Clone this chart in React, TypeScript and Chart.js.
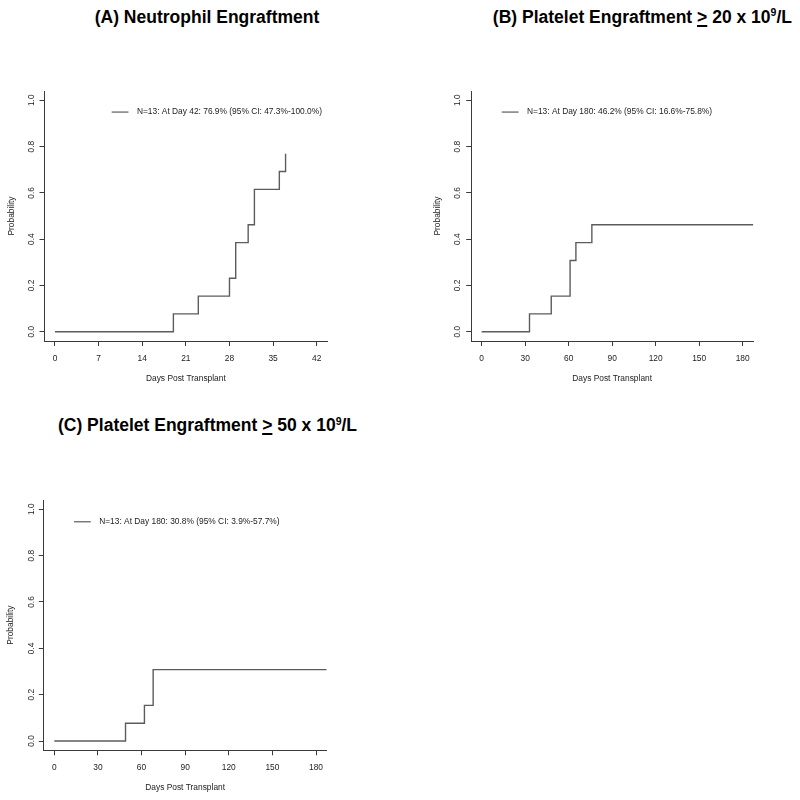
import React, { useEffect, useRef } from "react";
import { Chart, registerables } from "chart.js";

Chart.register(...registerables);

// ---------- data ----------
const neutrophilDays = [0, 19, 23, 28, 29, 31, 32, 36, 37];
const neutrophilProb = [0, 0.077, 0.154, 0.231, 0.385, 0.462, 0.615, 0.692, 0.769];

const platelet20Days = [0, 33, 48, 61, 65, 76, 190];
const platelet20Prob = [0, 0.077, 0.154, 0.308, 0.385, 0.462, 0.462];

const platelet50Days = [0, 49, 62, 68, 190];
const platelet50Prob = [0, 0.077, 0.154, 0.308, 0.308];

const dayTicksA = [0, 7, 14, 21, 28, 35, 42];
const dayTicksBC = [0, 30, 60, 90, 120, 150, 180];
const probTicks = [0, 0.2, 0.4, 0.6, 0.8, 1.0];

const legendTextA = "N=13: At Day 42: 76.9% (95% CI: 47.3%-100.0%)";
const legendTextB = "N=13: At Day 180: 46.2% (95% CI: 16.6%-75.8%)";
const legendTextC = "N=13: At Day 180: 30.8% (95% CI: 3.9%-57.7%)";

const xAxisTitle = "Days Post Transplant";
const yAxisTitle = "Probability";

// ---------- styling ----------
const FONT = '"Liberation Sans", Arial, Helvetica, sans-serif';
const SMALL = 8.4;
const LH = SMALL * 1.2;
const INK = "#1c1c1c";
const AXIS = "#3a3a3a";
const CURVE = "#5c5c5c";
const ZERO_LABEL_W = 11.7; // width of "0.0" at SMALL size

type Rect = { left: number; top: number; width: number; height: number };
type PlotRect = { l: number; r: number; t: number; b: number };

type PanelSpec = {
  canvas: Rect;
  plot: PlotRect;
  days: number[];
  probs: number[];
  xTicks: number[];
  xLim: [number, number];
  legendText: string;
  legendAt: [number, number];
  yTickGap: number;
  yTitleGap: number;
  xTickGap: number;
  xTitleGap: number;
};

const panelA: PanelSpec = {
  canvas: { left: 0, top: 40, width: 400, height: 360 },
  plot: { l: 44.5, r: 327.2, t: 91, b: 341 },
  days: neutrophilDays,
  probs: neutrophilProb,
  xTicks: dayTicksA,
  xLim: [0, 42],
  legendText: legendTextA,
  legendAt: [9.1, 0.949],
  yTickGap: 12.4,
  yTitleGap: 33.3,
  xTickGap: 17.7,
  xTitleGap: 38,
};

const panelB: PanelSpec = {
  canvas: { left: 400, top: 40, width: 400, height: 360 },
  plot: { l: 471.2, r: 753.1, t: 91, b: 341 },
  days: platelet20Days,
  probs: platelet20Prob,
  xTicks: dayTicksBC,
  xLim: [0, 180],
  legendText: legendTextB,
  legendAt: [13.9, 0.949],
  yTickGap: 13.3,
  yTitleGap: 33.4,
  xTickGap: 17.7,
  xTitleGap: 38,
};

const panelC: PanelSpec = {
  canvas: { left: 0, top: 450, width: 400, height: 350 },
  plot: { l: 43.8, r: 326.5, t: 500, b: 750.3 },
  days: platelet50Days,
  probs: platelet50Prob,
  xTicks: dayTicksBC,
  xLim: [0, 180],
  legendText: legendTextC,
  legendAt: [13.55, 0.946],
  yTickGap: 12.6,
  yTitleGap: 33,
  xTickGap: 17.7,
  xTitleGap: 37.6,
};

function Panel({ spec }: { spec: PanelSpec }) {
  const ref = useRef<HTMLCanvasElement>(null);

  useEffect(() => {
    if (!ref.current) return;
    const c = spec.canvas;
    const p = spec.plot;
    const yW = p.l - c.left;
    const xH = spec.xTitleGap + LH / 2;
    const ext = (spec.xLim[1] - spec.xLim[0]) * 0.04;

    const legendPlugin = {
      id: "rLegend",
      afterDraw(chart: any) {
        const ctx = chart.ctx as CanvasRenderingContext2D;
        const px = chart.scales.x.getPixelForValue(spec.legendAt[0]);
        const py = chart.scales.y.getPixelForValue(spec.legendAt[1]);
        ctx.save();
        ctx.strokeStyle = CURVE;
        ctx.lineWidth = 1.2;
        ctx.beginPath();
        ctx.moveTo(px, py);
        ctx.lineTo(px + 2 * SMALL, py);
        ctx.stroke();
        ctx.fillStyle = INK;
        ctx.font = `${SMALL}px ${FONT}`;
        ctx.textAlign = "left";
        ctx.textBaseline = "middle";
        ctx.fillText(spec.legendText, px + 3 * SMALL, py);
        ctx.restore();
      },
    };

    const smallFont = { family: FONT, size: SMALL, lineHeight: 1.2 };

    const chart = new Chart(ref.current, {
      type: "line",
      data: {
        datasets: [
          {
            data: spec.days.map((d, i) => ({ x: d, y: spec.probs[i] })),
            borderColor: CURVE,
            borderWidth: 1.4,
            pointRadius: 0,
            stepped: "before",
            fill: false,
          },
        ],
      },
      options: {
        animation: false,
        responsive: false,
        events: [],
        layout: {
          padding: {
            left: 0,
            top: p.t - c.top,
            right: c.left + c.width - p.r,
            bottom: c.top + c.height - p.b - xH,
          },
        },
        plugins: {
          legend: { display: false },
          tooltip: { enabled: false },
          title: { display: false },
        },
        scales: {
          x: {
            type: "linear",
            min: spec.xLim[0] - ext,
            max: spec.xLim[1] + ext,
            afterBuildTicks: (s: any) => {
              s.ticks = spec.xTicks.map((v) => ({ value: v }));
            },
            afterFit: (s: any) => {
              s.height = xH;
            },
            grid: {
              drawOnChartArea: false,
              drawTicks: true,
              tickLength: 5,
              color: AXIS,
              lineWidth: 1,
            },
            border: { display: true, color: AXIS, width: 1 },
            ticks: {
              font: smallFont,
              color: INK,
              padding: spec.xTickGap - 5 - LH / 2,
              maxRotation: 0,
              minRotation: 0,
              autoSkip: false,
              callback: (v: any) => String(v),
            },
            title: {
              display: true,
              text: xAxisTitle,
              font: smallFont,
              color: INK,
              padding: { top: 0, bottom: 0 },
            },
          },
          y: {
            type: "linear",
            min: -0.04,
            max: 1.04,
            afterBuildTicks: (s: any) => {
              s.ticks = probTicks.map((v) => ({ value: v }));
            },
            afterFit: (s: any) => {
              s.width = yW;
            },
            grid: {
              drawOnChartArea: false,
              drawTicks: true,
              tickLength: 5,
              color: AXIS,
              lineWidth: 1,
            },
            border: { display: true, color: AXIS, width: 1 },
            ticks: {
              font: smallFont,
              color: INK,
              minRotation: 90,
              maxRotation: 90,
              crossAlign: "center",
              padding: spec.yTickGap - 5 - ZERO_LABEL_W / 2,
              autoSkip: false,
              callback: (v: any) => Number(v).toFixed(1),
            },
            title: {
              display: true,
              text: yAxisTitle,
              font: smallFont,
              color: INK,
              padding: { top: yW - spec.yTitleGap - LH / 2, bottom: 0 },
            },
          },
        },
      },
      plugins: [legendPlugin],
    } as any);

    return () => chart.destroy();
  }, [spec]);

  const c = spec.canvas;
  return (
    <canvas
      ref={ref}
      width={c.width}
      height={c.height}
      style={{ position: "absolute", left: c.left, top: c.top, width: c.width, height: c.height }}
    />
  );
}

const TITLE_SIZE = 17.5;
const TITLE_LH = 20;

function PanelTitle({ cx, baseline, children }: { cx: number; baseline: number; children: React.ReactNode }) {
  const top = baseline - ((TITLE_LH - TITLE_SIZE * 1.117) / 2 + TITLE_SIZE * 0.905);
  return (
    <div
      style={{
        position: "absolute",
        left: cx,
        top,
        transform: "translateX(-50%)",
        fontFamily: FONT,
        fontWeight: "bold",
        fontSize: TITLE_SIZE,
        lineHeight: `${TITLE_LH}px`,
        whiteSpace: "nowrap",
        color: "#000",
      }}
    >
      {children}
    </div>
  );
}

const Ge = () => (
  <span style={{ textDecoration: "underline", textUnderlineOffset: "2px", textDecorationThickness: "1.5px" }}>&gt;</span>
);
const Sup9 = () => (
  <span style={{ fontSize: "0.6em", position: "relative", top: "-0.6em" }}>9</span>
);

export default function App() {
  return (
    <div
      style={{
        position: "absolute",
        left: 0,
        top: 0,
        width: 800,
        height: 800,
        background: "#fff",
        overflow: "hidden",
      }}
    >
      <PanelTitle cx={207} baseline={22.8}>(A) Neutrophil Engraftment</PanelTitle>
      <PanelTitle cx={642.4} baseline={22.8}>
        (B) Platelet Engraftment <Ge /> 20 x 10<Sup9 />/L
      </PanelTitle>
      <PanelTitle cx={207.5} baseline={431.5}>
        (C) Platelet Engraftment <Ge /> 50 x 10<Sup9 />/L
      </PanelTitle>
      <Panel spec={panelA} />
      <Panel spec={panelB} />
      <Panel spec={panelC} />
    </div>
  );
}
